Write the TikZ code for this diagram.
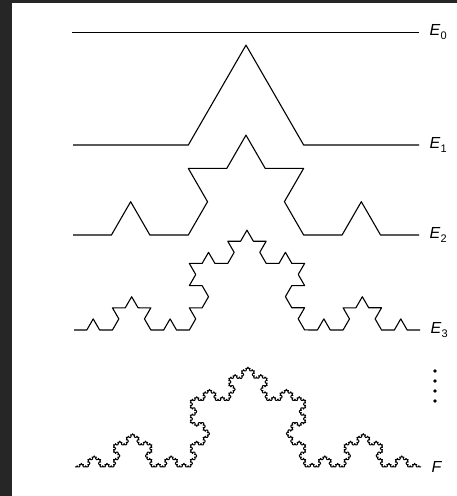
\documentclass[tikz,border=0pt]{standalone}
\usepackage{fontspec}
\usepackage{xcolor}
\usepackage{tikz}
\usetikzlibrary{decorations.fractals}
\newfontfamily\stagefont{Liberation Sans}
\newcommand{\stagename}[1]{E\kern0.5pt\raisebox{-4pt}{\fontsize{11}{12}\selectfont\upshape #1}}
\definecolor{frame}{HTML}{262626}

\begin{document}
\begin{tikzpicture}[x=1pt, y=1pt,
    koch/.style={line width=1.1pt, line join=round, decoration={Koch snowflake}},
    stage/.style={right=7pt, font=\stagefont\itshape\fontsize{16}{18}\selectfont}]
    % Frame
    \useasboundingbox (0,0) rectangle (457,496);
    \fill[frame] (0,0) rectangle (457,496);
    \fill[white] (12,0) rectangle (457,493);

    % Ends of the stages
    \coordinate (e0s) at (72,464);  \coordinate (e0e) at (419,464);
    \coordinate (e1s) at (73,351);  \coordinate (e1e) at (419,351);
    \coordinate (e2s) at (73,261);  \coordinate (e2e) at (419,261);
    \coordinate (e3s) at (74,166);  \coordinate (e3e) at (420,166);
    \coordinate (fs)  at (75,29);   \coordinate (fe)  at (421,29);

    % E_0 to E_3
    \draw[koch, line width=0.9pt] (e0s) -- (e0e);
    \draw[koch] decorate{ (e1s) -- (e1e) };
    \draw[koch] decorate{ decorate{ (e2s) -- (e2e) }};
    \draw[koch] decorate{ decorate{ decorate{ (e3s) -- (e3e) }}};

    % Limit curve
    \draw[koch, line width=1pt] decorate{ decorate{ decorate{ decorate{ decorate{ (fs) -- (fe) }}}}};

    % Labels
    \node[stage] (e0) at (e0e) {\stagename{0}};
    \node[stage] (e1) at (e1e) {\stagename{1}};
    \node[stage] (e2) at (e2e) {\stagename{2}};
    \node[stage] (e3) at (e3e) {\stagename{3}};
    \node[stage] (f)  at (fe)  {F};

    % Dots
    \foreach \y in {125,115,105,95}
        \fill (435,\y) circle (1.9);
\end{tikzpicture}
\end{document}
